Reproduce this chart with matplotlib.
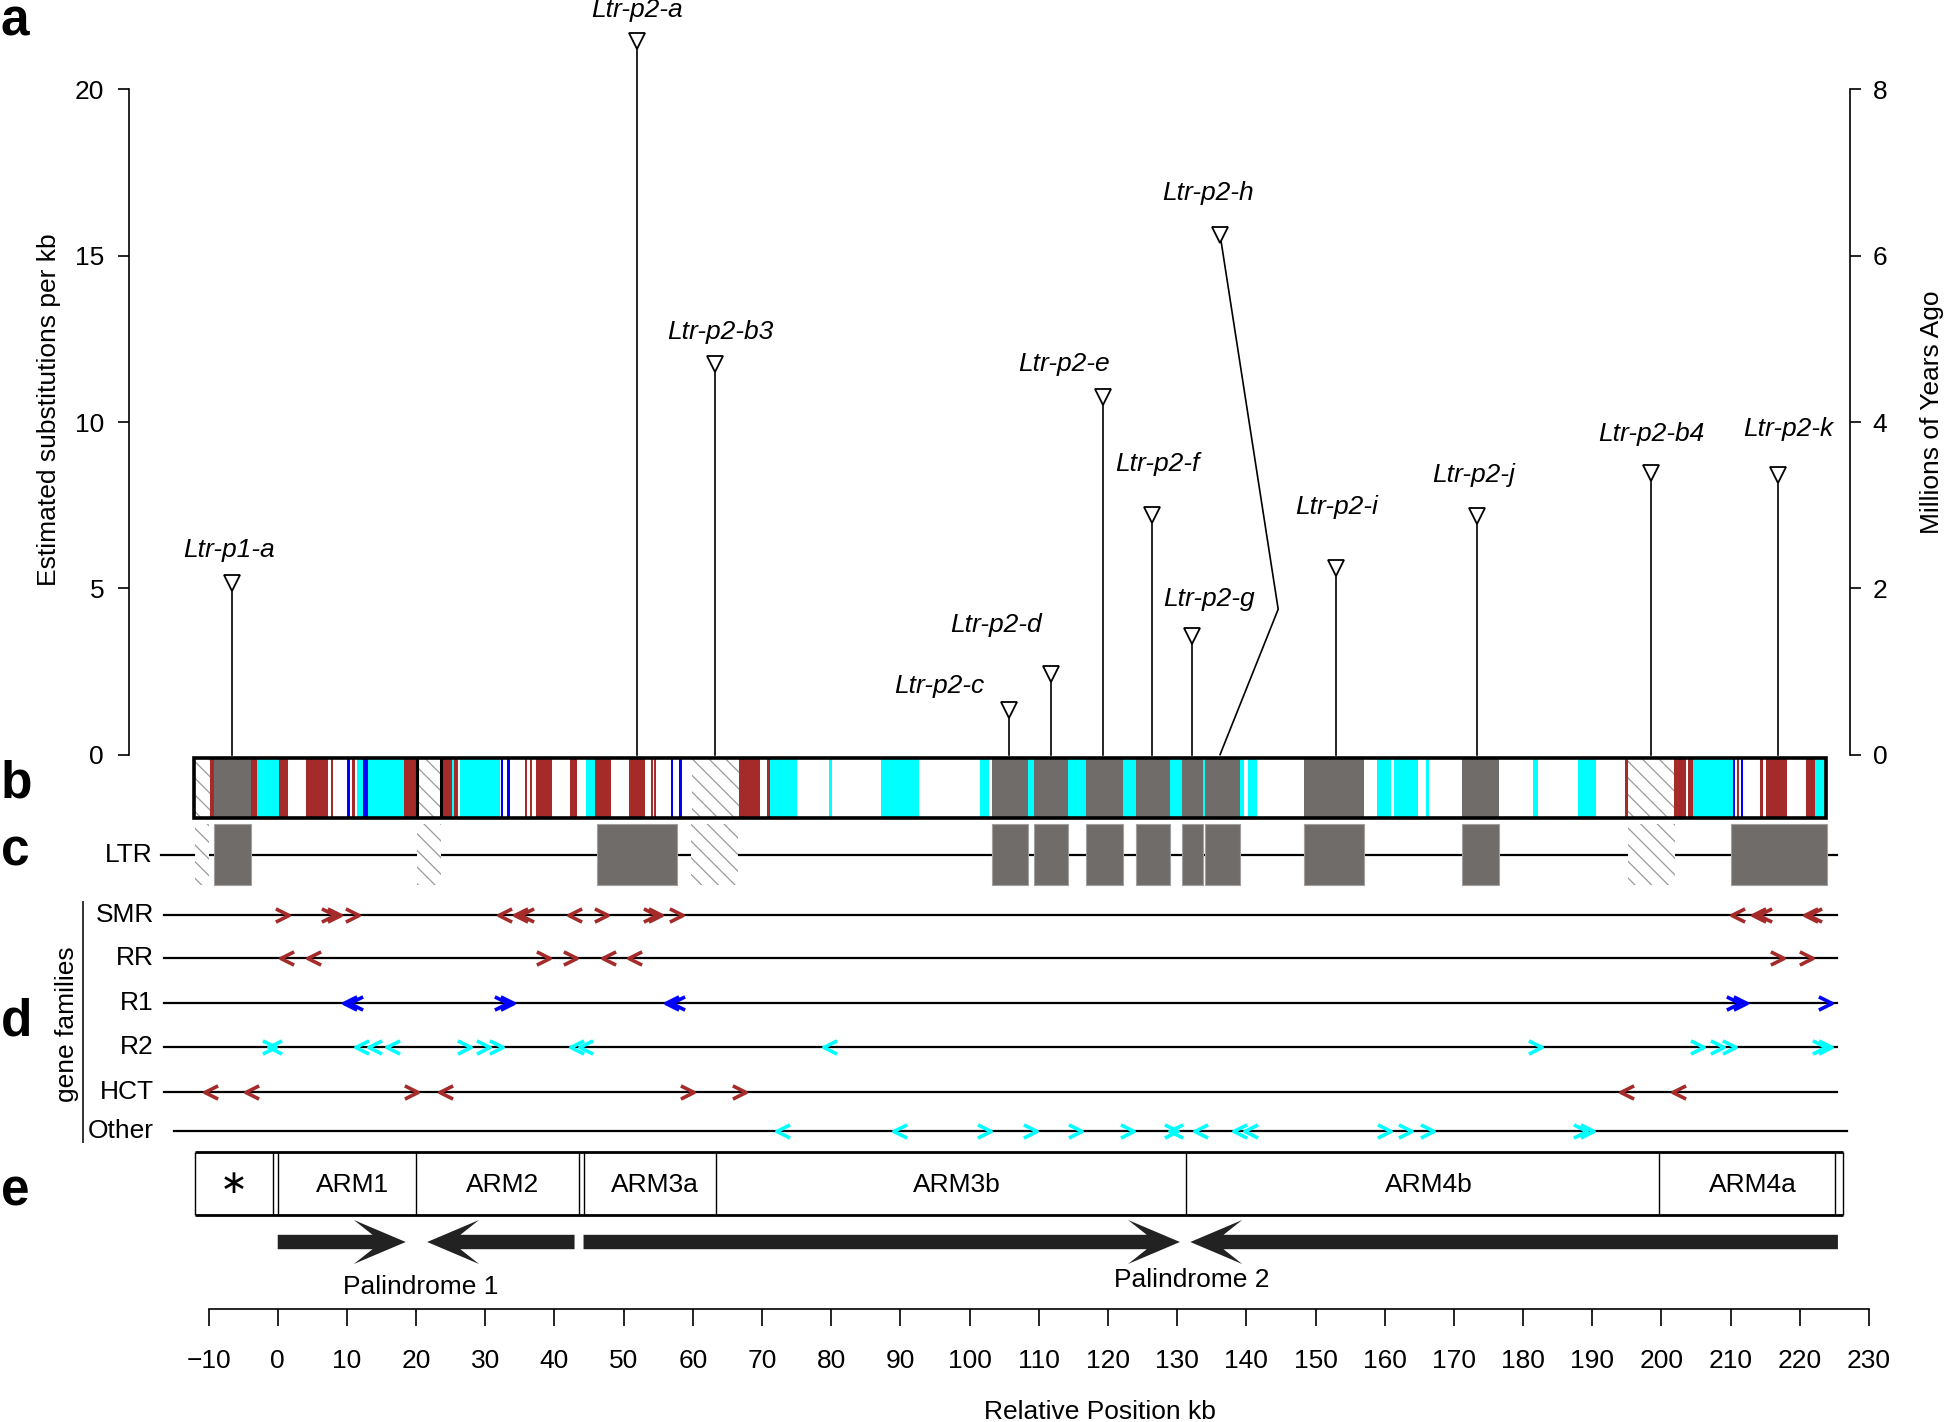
import matplotlib
matplotlib.use('Agg')
import matplotlib.pyplot as plt
from matplotlib.path import Path
from matplotlib.patches import Rectangle, Polygon

plt.rcParams['font.family'] = ['Liberation Sans', 'DejaVu Sans']
plt.rcParams['hatch.color'] = '#9a9a9a'
plt.rcParams['hatch.linewidth'] = 0.9

# ---------------- data ----------------
ltr_names = ['Ltr-p1-a', 'Ltr-p2-a', 'Ltr-p2-b3', 'Ltr-p2-c', 'Ltr-p2-d', 'Ltr-p2-e',
             'Ltr-p2-f', 'Ltr-p2-g', 'Ltr-p2-h', 'Ltr-p2-i', 'Ltr-p2-j', 'Ltr-p2-b4', 'Ltr-p2-k']
ltr_pos_kb = [-6.6, 51.9, 63.2, 105.7, 111.8, 119.3, 126.3, 132.2, 136.2, 152.9, 173.3, 198.5, 216.9]
ltr_subs_per_kb = [5.15, 21.46, 11.75, 1.34, 2.43, 10.75, 7.2, 3.58, 15.63, 5.6, 7.16, 8.47, 8.4]
leader_bend = {8: (144.6, 4.37)}   # Ltr-p2-h leader line bends here
subs_to_myr = 0.4

bar_extent = (-12.05, 223.74)
bar_red = [(-9.8, -9.2), (-3.9, -3.0), (0.2, 1.5), (4.1, 7.3), (7.7, 8.0), (10.8, 11.1),
           (18.2, 20.1), (23.8, 25.2), (25.5, 26.1), (35.7, 36.0), (36.4, 36.7), (37.3, 39.7),
           (42.3, 43.2), (45.8, 48.1), (50.7, 53.1), (53.9, 54.2), (54.4, 54.7), (66.6, 69.7),
           (70.7, 71.1), (194.7, 195.2), (201.8, 203.6), (203.8, 204.5), (210.9, 211.2),
           (214.3, 214.7), (215.1, 218.2), (220.9, 222.2)]
bar_cyan = [(-3.0, 0.2), (11.5, 12.3), (13.0, 18.2), (25.2, 25.5), (26.3, 32.1), (44.6, 45.8),
            (71.2, 75.1), (79.7, 80.1), (87.2, 92.7), (101.5, 102.8), (108.5, 109.3),
            (114.2, 116.8), (122.2, 124.1), (128.9, 130.7), (133.7, 134.0), (139.1, 139.7),
            (140.2, 141.5), (158.9, 160.9), (161.3, 164.8), (165.9, 166.4), (181.4, 182.2),
            (187.9, 190.6), (204.5, 210.3), (222.2, 223.6)]
bar_blue = [(10.0, 10.4), (12.3, 13.0), (32.2, 32.5), (33.2, 33.6), (56.8, 57.1), (58.0, 58.4),
            (210.3, 210.6), (211.5, 211.8)]
bar_grey = [(-9.2, -3.9), (103.3, 108.5), (109.3, 114.2), (116.8, 122.2), (124.1, 128.9),
            (130.7, 133.7), (134.0, 139.1), (148.4, 157.0), (171.1, 176.5)]
bar_hatch = [(-12.05, -9.8), (20.1, 23.6), (59.9, 66.6), (195.2, 201.8)]
bar_dividers = [20.1, 23.6]

ltr_boxes = [(-9.2, -3.9), (46.1, 57.7), (103.3, 108.5), (109.3, 114.2), (116.8, 122.2),
             (124.1, 128.9), (130.7, 133.7), (134.0, 139.1), (148.4, 157.0), (171.1, 176.5),
             (210.0, 223.9)]
ltr_hatch = [(-11.9, -10.0), (20.1, 23.6), (59.7, 66.5), (195.2, 201.9)]

gene_rows = ['SMR', 'RR', 'R1', 'R2', 'HCT', 'Other']
smr_fwd = [0.6, 7.2, 8.1, 10.8, 46.7, 53.8, 54.6, 57.5]
smr_rev = [32.8, 35.2, 36.1, 42.9, 211.1, 214.1, 215.0, 221.6, 222.2]
rr_fwd = [38.4, 42.3, 216.7, 220.9]
rr_rev = [1.3, 5.2, 47.9, 51.7]
r1_fwd = [32.3, 33.2, 210.4, 211.3, 223.6]
r1_rev = [10.4, 11.3, 57.0, 57.9]
r2_fwd = [-1.2, 26.9, 29.6, 31.5, 181.7, 205.2, 208.0, 209.8, 222.8, 223.6]
r2_rev = [-0.4, 12.2, 14.0, 16.6, 43.2, 44.6, 79.8]
hct_fwd = [19.3, 59.1, 66.7]
hct_rev = [-9.6, -3.7, 24.3, 195.0, 202.6]
other_fwd = [102.1, 108.8, 115.3, 122.8, 129.1, 159.9, 162.9, 166.1, 188.2, 189.3]
other_rev = [73.0, 89.9, 129.9, 133.4, 139.1, 140.6]
row_extent = [(-16.4, 225.4)] * 5 + [(-15.0, 226.8)]

arm_labels = ['\u2217', 'ARM1', 'ARM2', 'ARM3a', 'ARM3b', 'ARM4b', 'ARM4a']
arm_starts = [-12.0, 0.0, 20.0, 44.2, 63.3, 131.3, 199.7]
arm_ends = [-0.75, 20.0, 43.5, 63.3, 131.3, 199.7, 225.1]
arm_box_end = 226.3

pal_arrows = [(0.0, 18.5), (42.9, 21.6), (44.2, 130.4), (225.5, 131.9)]  # (start, tip)
pal_labels = ['Palindrome 1', 'Palindrome 2']
pal_label_kb = [20.7, 132.1]

xticks = list(range(-10, 231, 10))

# ---------------- styling ----------------
RED = '#A52A2A'
CYAN = '#00FFFF'
BLUE = '#0000FF'
GREY = '#706C6A'
FS = 19
HATCH = '\\\\'

W, H = 1946, 1422
fig = plt.figure(figsize=(W / 100, H / 100), dpi=100)
XLIM = (-40.14, 241.12)


def full_axes():
    a = fig.add_axes([0, 0, 1, 1])
    a.patch.set_visible(False)
    a.set_xlim(*XLIM)
    for s in a.spines.values():
        s.set_visible(False)
    return a


ax2 = full_axes()               # lower panels, y in pixel rows
ax2.set_ylim(H, 0)
ax = full_axes()                # panel a, substitutions per kb
ax.set_ylim(-20.066, 22.688)
axr = full_axes()               # right axis, millions of years
axr.set_ylim(-20.066 * subs_to_myr, 22.688 * subs_to_myr)

# ---- panel a axes ----
ax.set_xticks([])
ax.spines['left'].set_visible(True)
ax.spines['left'].set_position(('data', -21.48))
ax.spines['left'].set_bounds(0, 20)
ax.spines['left'].set_linewidth(1.2)
ax.set_yticks([0, 5, 10, 15, 20])
ax.tick_params(axis='y', direction='out', length=8, width=1.2, labelsize=FS, pad=10)
ax.text(-33.0, 10.36, 'Estimated substitutions per kb', rotation=90, ha='center', va='center',
        fontsize=FS)

axr.set_xticks([])
axr.spines['right'].set_visible(True)
axr.spines['right'].set_position(('data', 227.31))
axr.spines['right'].set_bounds(0, 8)
axr.spines['right'].set_linewidth(1.2)
axr.yaxis.set_ticks_position('right')
axr.set_yticks([0, 2, 4, 6, 8])
axr.tick_params(axis='y', direction='out', length=8, width=1.2, labelsize=FS, pad=8)
ax.text(239.1, 10.3, 'Millions of Years Ago', rotation=90, ha='center', va='center', fontsize=FS)

label_offsets = [(-2, 24), (0, 22), (4, 23), (-50, 17), (-40, 35), (-28, 24), (4, 37),
                 (12, 26), (-9, 30), (1, 44), (-2, 30), (0, 28), (7, 33)]
for i, (name, pos, val) in enumerate(zip(ltr_names, ltr_pos_kb, ltr_subs_per_kb)):
    if i in leader_bend:
        bx, by = leader_bend[i]
        ax.plot([pos, bx, pos], [val, by, 0], color='black', lw=1.2)
    else:
        ax.plot([pos, pos], [0, val], color='black', lw=1.2)
    ax.annotate(name, (pos, val), xytext=label_offsets[i], textcoords='offset points',
                ha='center', va='center', fontsize=FS, style='italic')
ax.plot(ltr_pos_kb, ltr_subs_per_kb, linestyle='none', marker='v', ms=12, mfc='white',
        mec='black', mew=1.3, zorder=5)

# ---- panel b: bar ----
BT, BB = 758, 818
for segs, col in [(bar_red, RED), (bar_cyan, CYAN), (bar_blue, BLUE), (bar_grey, GREY)]:
    ax2.broken_barh([(s, e - s) for s, e in segs], (BT, BB - BT), facecolors=col,
                    edgecolors='none', zorder=2)
for s, e in bar_hatch:
    ax2.add_patch(Rectangle((s, BT), e - s, BB - BT, facecolor='white', edgecolor='#9a9a9a',
                            lw=0, hatch=HATCH, zorder=2))
ax2.vlines(bar_dividers, BT, BB, color='black', lw=2.2, zorder=3)
ax2.add_patch(Rectangle((bar_extent[0], BT), bar_extent[1] - bar_extent[0], BB - BT,
                        fill=False, edgecolor='black', lw=2.6, zorder=4))

# ---- panel c: LTR ----
CY, CT, CB = 855, 824, 885
ax2.plot([-16.8, 225.4], [CY, CY], color='black', lw=1.6, zorder=1)
ax2.broken_barh([(s, e - s) for s, e in ltr_boxes], (CT, CB - CT), facecolors=GREY,
                edgecolors='#a0a0a0', linewidths=0.8, zorder=2)
for s, e in ltr_hatch:
    ax2.add_patch(Rectangle((s, CT), e - s, CB - CT, facecolor='white', edgecolor='#9a9a9a',
                            lw=0, hatch=HATCH, zorder=2))
ax2.text(-18.1, CY, 'LTR', ha='right', va='center', fontsize=FS)

# ---- panel d: gene families ----
chev_r = Path([(-1.0, 1.0), (1.0, 0.0), (-1.0, -1.0)],
              [Path.MOVETO, Path.LINETO, Path.LINETO])
chev_l = Path([(1.0, 1.0), (-1.0, 0.0), (1.0, -1.0)],
              [Path.MOVETO, Path.LINETO, Path.LINETO])
row_y = [915, 958, 1003, 1047, 1092, 1131]
row_data = [(smr_fwd, smr_rev, RED), (rr_fwd, rr_rev, RED), (r1_fwd, r1_rev, BLUE),
            (r2_fwd, r2_rev, CYAN), (hct_fwd, hct_rev, RED), (other_fwd, other_rev, CYAN)]
for name, y, (fwd, rev, col), (x0, x1) in zip(gene_rows, row_y, row_data, row_extent):
    ax2.plot([x0, x1], [y, y], color='black', lw=1.6, zorder=1)
    ax2.plot(fwd, [y] * len(fwd), linestyle='none', marker=chev_r, ms=9.5, mfc='none',
             mec=col, mew=2.6, zorder=3)
    ax2.plot(rev, [y] * len(rev), linestyle='none', marker=chev_l, ms=9.5, mfc='none',
             mec=col, mew=2.6, zorder=3)
    ax2.text(-17.9, y, name, ha='right', va='center', fontsize=FS)
ax2.plot([-28.1, -28.1], [902, 1142], color='#333333', lw=1.4)
ax2.text(-30.4, 1024, 'gene families', rotation=90, ha='center', va='center', fontsize=FS)

# ---- panel e: ARMs ----
ET, EB = 1152, 1215
ax2.plot([arm_starts[0], arm_box_end], [ET, ET], color='black', lw=2.0, solid_capstyle='butt')
ax2.plot([arm_starts[0], arm_box_end], [EB, EB], color='black', lw=2.0, solid_capstyle='butt')
edges = sorted(set(arm_starts + arm_ends + [arm_box_end]))
ax2.vlines(edges, ET, EB, color='black', lw=1.0)
for lab, s, e in zip(arm_labels, arm_starts, arm_ends):
    if lab == '\u2217':
        ax2.text((s + e) / 2, (ET + EB) / 2, lab, ha='center', va='center', fontsize=24,
                 family='DejaVu Sans')
    else:
        ax2.text((s + e) / 2 + 0.8, (ET + EB) / 2 + 2, lab, ha='center', va='center',
                 fontsize=FS)

PY, PT, PH, HEAD, NOTCH = 1242, 7.2, 22, 7.5, 2.7
for start, tip in pal_arrows:
    d = 1 if tip > start else -1
    base = tip - d * HEAD
    join = base + d * NOTCH
    verts = [(start, PY - PT), (join, PY - PT), (base, PY - PH), (tip, PY), (base, PY + PH),
             (join, PY + PT), (start, PY + PT)]
    ax2.add_patch(Polygon(verts, closed=True, facecolor='#222222', edgecolor='none'))
ax2.text(pal_label_kb[0], 1287, pal_labels[0], ha='center', va='center', fontsize=FS)
ax2.text(pal_label_kb[1], 1280, pal_labels[1], ha='center', va='center', fontsize=FS)

# ---- bottom axis ----
ax2.set_yticks([])
ax2.spines['bottom'].set_visible(True)
ax2.spines['bottom'].set_position(('data', 1309))
ax2.spines['bottom'].set_bounds(-10, 230)
ax2.spines['bottom'].set_linewidth(1.2)
ax2.set_xticks(xticks)
ax2.tick_params(axis='x', direction='out', length=12, width=1.2, labelsize=FS, pad=17)
ax2.text(118.8, 1412, 'Relative Position kb', ha='center', va='center', fontsize=FS)

# ---- panel letters ----
for letter, yb in zip('abcde', [36, 798, 865, 1035, 1206]):
    fig.text(1 / W, 1 - yb / H, letter, ha='left', va='baseline', fontsize=37,
             fontweight='bold')

fig.savefig('out.png', dpi=100)
